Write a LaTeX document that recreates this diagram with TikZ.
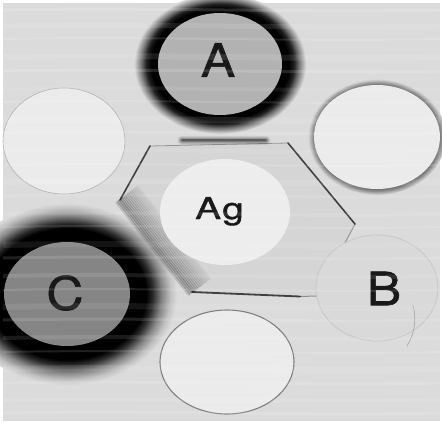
\documentclass[tikz,border=0pt]{standalone}
\usepackage{fontspec}
\setmainfont{TeX Gyre Heros}
\newfontfamily\lblfont[FakeBold=1.2]{TeX Gyre Heros}
\usetikzlibrary{shapes.geometric,calc}
\definecolor{bgc}{gray}{0.86}
\definecolor{hexc}{gray}{0.82}
\definecolor{wellA}{gray}{0.70}
\definecolor{wellC}{gray}{0.52}
\definecolor{wellB}{gray}{0.85}
\definecolor{wellW}{gray}{0.92}
\definecolor{wellAg}{gray}{0.93}
\definecolor{ink}{gray}{0.10}
\pgfdeclareradialshading{haloA}{\pgfpoint{0bp}{0bp}}{color(0bp)=(black); color(20bp)=(black); color(21.5bp)=(black!85!bgc); color(23bp)=(black!45!bgc); color(25bp)=(bgc); color(50bp)=(bgc)}
\pgfdeclareradialshading{haloC}{\pgfpoint{0bp}{0bp}}{color(0bp)=(black); color(18bp)=(black); color(19.5bp)=(black!80!bgc); color(21.5bp)=(black!40!bgc); color(23.5bp)=(black!12!bgc); color(25bp)=(bgc); color(50bp)=(bgc)}
\pgfdeclareradialshading{rimR}{\pgfpoint{0bp}{0bp}}{color(0bp)=(black!55); color(22.5bp)=(black!55); color(23.3bp)=(black!35!bgc); color(25bp)=(bgc); color(50bp)=(bgc)}
\tikzset{
  well/.style={ellipse, inner sep=0pt, draw=none},
  lbl/.style={font=\lblfont\fontsize{46}{46}\selectfont, text=ink, inner sep=0pt, xscale=1.12},
  pline/.style={draw=black, line cap=round}
}
\begin{document}
\begin{tikzpicture}[x=1pt,y=-1pt]
\useasboundingbox (0,0) rectangle (442,423);
\fill[white] (0,0) rectangle (442,423);
\fill[bgc] (3,3) rectangle (440,421);
% halos
\shade[shading=haloC] (67,294) ellipse [x radius=110pt, y radius=91pt];
\shade[shading=haloA] (220,64) ellipse [x radius=86pt, y radius=70pt];
\shade[shading=rimR] (377,137) ellipse [x radius=69pt, y radius=58pt];
% hexagon of precipitin lines
\coordinate (h1) at (150,146);
\coordinate (h2) at (288,143);
\coordinate (h3) at (355,224);
\coordinate (h4) at (317,296);
\coordinate (h5) at (192,292);
\coordinate (h6) at (120,200);
\fill[hexc, opacity=0.6] (h1) -- (h2) -- (h3) -- (h4) -- (h5) -- (h6) -- cycle;
% top band (blurred)
\foreach \w/\o in {9/0.08, 7/0.1, 5/0.14, 3/0.2, 1.5/0.25}
  \draw[pline, line width=\w pt, opacity=\o] (182,140) -- (266,140);
\draw[pline, line width=0.8pt, opacity=0.3] (h1) -- (h2);
% upper left
\draw[pline, line width=1.6pt, opacity=0.7] (h1) -- (h6);
% upper right
\draw[pline, line width=1.6pt, opacity=0.7] (h2) -- (h3);
% lower right
\draw[pline, line width=1pt, opacity=0.3] (h3) -- (h4);
% bottom
\draw[pline, line width=1.8pt, opacity=0.7] (h5) -- (300,296.5);
\draw[pline, line width=1pt, opacity=0.35] (300,296.5) -- (h4);
% lower left broad blurred bands
\foreach \d/\o in {-4/0.15, -2/0.2, 0/0.22, 2/0.2, 4/0.16, 6/0.16, 8/0.13, 10/0.13, 12/0.1, 14/0.1, 16/0.08, 18/0.06, 20/0.05, 22/0.04}
  \draw[pline, line width=3pt, opacity=\o] ($(h6)+(0.796*\d,-0.605*\d)$) -- ($(h5)+(0.796*\d,-0.605*\d)$);
% wells
\node[well, fill=wellA, minimum width=124pt, minimum height=102pt] (wA) at (220,64) {};
\node[well, fill=wellW, minimum width=122pt, minimum height=106pt, draw=black!30, line width=0.6pt] (wUL) at (64,141) {};
\node[well, fill=wellW, minimum width=126pt, minimum height=104pt] (wUR) at (377,137) {};
\node[well, fill=wellAg, minimum width=130pt, minimum height=106pt] (wAg) at (225,212) {};
\node[well, fill=wellC, minimum width=126pt, minimum height=104pt] (wC) at (67,294) {};
\node[well, fill=wellB, minimum width=122pt, minimum height=106pt, draw=black!22, line width=0.8pt] (wB) at (377,288) {};
\node[well, fill=wellW, minimum width=134pt, minimum height=104pt, draw=black!50, line width=1.1pt] (wD) at (227,362) {};
\draw[black!35, line width=0.6pt] (413,305) .. controls (417,320) and (414,335) .. (407,346);
% labels
\node[lbl] (tA) at (218,60) {A};
\node[lbl] (tB) at (384,288.5) {B};
\node[lbl] (tC) at (65,293) {C};
\node[lbl, font=\lblfont\fontsize{30}{30}\selectfont, xscale=1.15, anchor=base] (tAg) at (219.5,219) {A\kern1pt g};
% streaks of the photograph
\begin{scope}
\clip (3,3) rectangle (440,421);
\foreach \y/\w/\o in {10/3/0.15, 26/5/0.1, 39/2/0.12, 57/6/0.1, 71/3/0.14, 89/4/0.08, 102/2/0.12, 120/6/0.1, 133/3/0.12, 151/4/0.08, 165/2/0.12, 182/6/0.1, 196/3/0.1, 214/4/0.1, 227/2/0.12, 245/6/0.08, 258/3/0.12, 276/4/0.1, 290/2/0.12, 307/6/0.08, 320/3/0.12, 338/4/0.1, 352/2/0.12, 369/6/0.1, 383/3/0.12, 400/4/0.1, 413/3/0.12}
  \draw[white, opacity=\o, line width=\w pt] (3,\y) .. controls (150,\y-3) and (300,\y+3) .. (440,\y);
\end{scope}
\end{tikzpicture}
\end{document}
